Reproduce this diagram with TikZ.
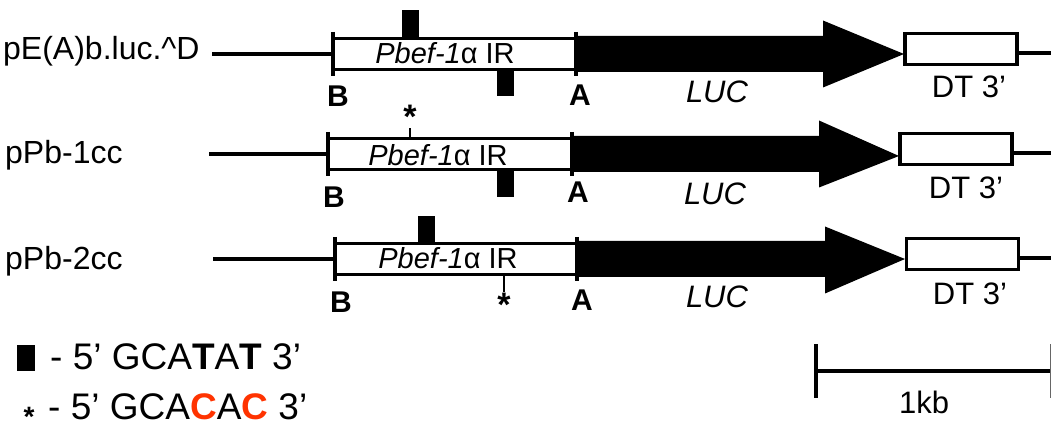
\documentclass[tikz,border=0pt]{standalone}
\usepackage{fontspec}
\setmainfont{Liberation Sans}
\definecolor{accred}{RGB}{255,51,0}
\newcommand{\setfs}[1]{\fontsize{#1}{#1}\selectfont}
\newcommand{\irlabel}{\textit{Pbef-1}α IR}
\newcommand{\starglyph}{\raisebox{0pt}[0.72em][-0.42em]{*}}
\tikzset{
  rowlbl/.style={font=\setfs{32}, inner sep=0, anchor=base west},
  irtext/.style={font=\setfs{29}, inner sep=0},
  ablbl/.style={font=\bfseries\setfs{30}, inner sep=0},
  luclbl/.style={font=\itshape\setfs{31}, inner sep=0},
  dtlbl/.style={font=\setfs{31}, inner sep=0},
  wline/.style={line width=3.2pt},
  irbox/.style={draw, fill=white, line width=3.2pt, inner sep=0, minimum height=31pt},
  dtbox/.style={draw, fill=white, line width=3.2pt, inner sep=0, minimum height=31pt, minimum width=112pt},
  tickln/.style={line width=3.2pt},
  sitebox/.style={fill=black, inner sep=0, minimum width=17pt, minimum height=27pt},
  stemln/.style={line width=1.5pt},
  star/.style={font=\bfseries\setfs{34}, inner sep=0, anchor=center},
  legtext/.style={font=\setfs{37}, inner sep=0, anchor=base west},
}
\begin{document}
\begin{tikzpicture}[x=1pt,y=-1pt]
\useasboundingbox (0,0) rectangle (1051,427);

% ---------------- Row 1 ----------------
\node[rowlbl] (n1) at (3,60) {pE(A)b.luc.\textasciicircum D};
\coordinate (s1) at (212,54);
\node[irbox, minimum width=243pt] (box1) at (454.5,54) {};
\coordinate (b1t) at (333,32); \coordinate (b1b) at (333,76);
\coordinate (a1t) at (576,32); \coordinate (a1b) at (576,76);
\draw[wline] (s1) -- (box1.west);
\fill (576,36) -- (823,36) -- (823,20.5) -- (904,54) -- (823,87.5) -- (823,72) -- (576,72) -- cycle;
\draw[tickln] (b1t) -- (b1b);
\draw[tickln] (a1t) -- (a1b);
\node[irtext] (ir1) at (445,53) {\irlabel};
\node[dtbox] (dt1) at (961,49) {};
\coordinate (e1) at (1051,53);
\draw[wline] (dt1.east |- e1) -- (e1);
\node[sitebox] (m1u) at (410,24) {};
\node[sitebox] (m1d) at (505.5,83) {};
\node[ablbl] (B1) at (338,96) {B};
\node[ablbl] (A1) at (580,95) {A};
\node[luclbl] (L1) at (717,92) {LUC};
\node[dtlbl] (D1) at (969,87) {DT 3’};

% ---------------- Row 2 ----------------
\node[rowlbl] (n2) at (5,164) {pPb-1cc};
\coordinate (s2) at (209,154);
\node[irbox, minimum width=244pt] (box2) at (450,154) {};
\coordinate (b2t) at (328,132); \coordinate (b2b) at (328,176);
\coordinate (a2t) at (572,132); \coordinate (a2b) at (572,176);
\draw[wline] (s2) -- (box2.west);
\fill (572,136) -- (819,136) -- (819,120.5) -- (899,156) -- (819,187.5) -- (819,172) -- (572,172) -- cycle;
\draw[tickln] (b2t) -- (b2b);
\draw[tickln] (a2t) -- (a2b);
\node[irtext] (ir2) at (438,155) {\irlabel};
\node[dtbox] (dt2) at (956,149) {};
\coordinate (e2) at (1051,153);
\draw[wline] (dt2.east |- e2) -- (e2);
\node[sitebox] (m2d) at (505.5,183.5) {};
\node[star] (st2) at (410,116) {\starglyph};
\coordinate (st2b) at (410,139);
\draw[stemln] (st2b) -- (st2.south);
\node[ablbl] (B2) at (334,197) {B};
\node[ablbl] (A2) at (578,192) {A};
\node[luclbl] (L2) at (715,194) {LUC};
\node[dtlbl] (D2) at (966,188) {DT 3’};

% ---------------- Row 3 ----------------
\node[rowlbl] (n3) at (5,270) {pPb-2cc};
\coordinate (s3) at (213,259);
\node[irbox, minimum width=242pt] (box3) at (456,259) {};
\coordinate (b3t) at (335,237); \coordinate (b3b) at (335,281);
\coordinate (a3t) at (577,237); \coordinate (a3b) at (577,281);
\draw[wline] (s3) -- (box3.west);
\fill (577,241) -- (825,241) -- (825,226.5) -- (905,259) -- (825,293.5) -- (825,277) -- (577,277) -- cycle;
\draw[tickln] (b3t) -- (b3b);
\draw[tickln] (a3t) -- (a3b);
\node[irtext] (ir3) at (448,258) {\irlabel};
\node[dtbox] (dt3) at (962.5,254) {};
\coordinate (e3) at (1051,258);
\draw[wline] (dt3.east |- e3) -- (e3);
\node[sitebox] (m3u) at (426,229.5) {};
\node[star] (st3) at (504,304) {\starglyph};
\coordinate (st3t) at (504,274);
\draw[stemln] (st3t) -- (st3.north);
\node[ablbl] (B3) at (341,302) {B};
\node[ablbl] (A3) at (582,300) {A};
\node[luclbl] (L3) at (717,297) {LUC};
\node[dtlbl] (D3) at (970,294) {DT 3’};

% ---------------- Legend ----------------
\node[sitebox, minimum width=18pt, minimum height=26pt] (lgbox) at (26,358) {};
\node[legtext] (lg1) at (50,369) {- 5’ GCA\textbf{T}A\textbf{T} 3’};
\node[star, font=\bfseries\setfs{28}] (lgstar) at (29,416) {\starglyph};
\node[legtext] (lg2) at (48,419) {- 5’ GCA\textbf{\color{accred}C}A\textbf{\color{accred}C} 3’};

% ---------------- Scale bar ----------------
\coordinate (sbl) at (816,371);
\coordinate (sbr) at (1050,371);
\draw[wline] (sbl) -- (sbr);
\draw[tickln] (816,344) -- (816,398);
\draw[line width=1.2pt, black!60] (1050.4,344) -- (1050.4,398);
\node[dtlbl] (kb) at (924,402) {1kb};
\end{tikzpicture}
\end{document}
